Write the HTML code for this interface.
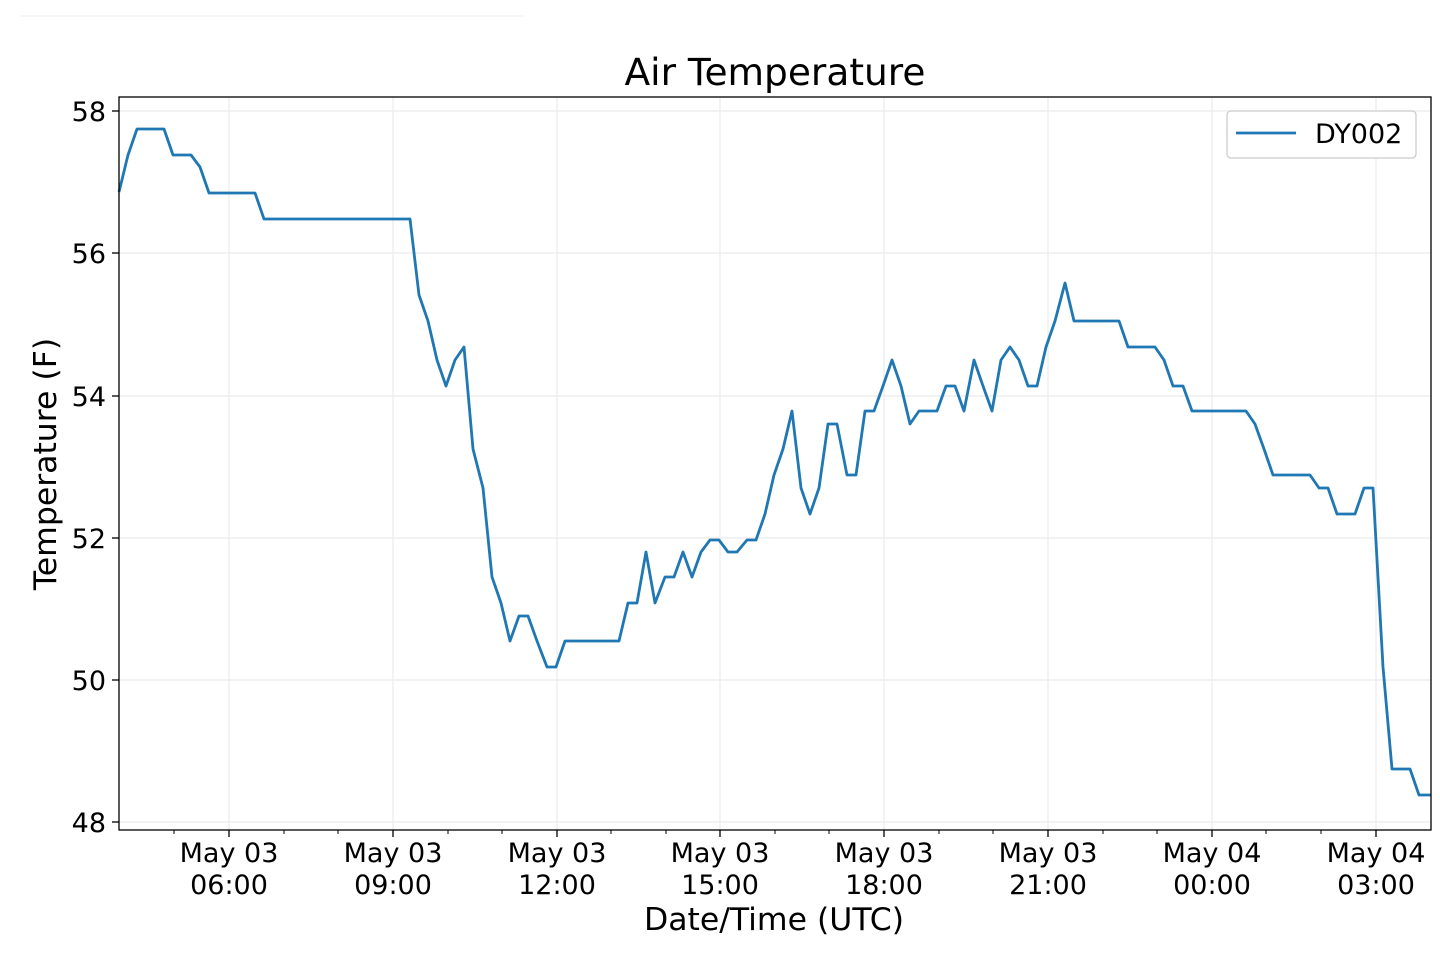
<!DOCTYPE html>
<html><head><meta charset="utf-8"><style>
body{margin:0;background:#fff;}
svg text{font-family:"DejaVu Sans","Liberation Sans",sans-serif;fill:#000;}
</style></head><body>
<svg width="1440" height="959" viewBox="0 0 1440 959" xmlns="http://www.w3.org/2000/svg">
<line x1="20" y1="16" x2="525" y2="16" stroke="#eee" stroke-width="1"/>
<g stroke="#ebebeb" stroke-width="1.2">
<line x1="229" y1="97" x2="229" y2="830"/><line x1="393" y1="97" x2="393" y2="830"/>
<line x1="557" y1="97" x2="557" y2="830"/><line x1="720" y1="97" x2="720" y2="830"/>
<line x1="884" y1="97" x2="884" y2="830"/><line x1="1048" y1="97" x2="1048" y2="830"/>
<line x1="1212" y1="97" x2="1212" y2="830"/><line x1="1376" y1="97" x2="1376" y2="830"/>
<line x1="119" y1="111" x2="1431" y2="111"/><line x1="119" y1="253" x2="1431" y2="253"/>
<line x1="119" y1="396" x2="1431" y2="396"/><line x1="119" y1="538" x2="1431" y2="538"/>
<line x1="119" y1="680" x2="1431" y2="680"/><line x1="119" y1="822" x2="1431" y2="822"/>
</g>
<polyline fill="none" stroke="#1f77b4" stroke-width="2.8" stroke-linejoin="round" points="119,192 128,155 137,129 164,129 173,155 191,155 200,167 209,193 255,193 264,219 410,219 419,295 428,321 437,360 446,386 455,360 464,347 473,449 483,488 492,577 501,603 510,641 519,616 528,616 537,641 547,667 556,667 565,641 619,641 628,603 637,603 646,552 655,603 665,577 674,577 683,552 692,577 701,552 710,540 719,540 728,552 737,552 747,540 756,540 765,514 774,475 783,449 792,411 801,488 810,514 819,488 828,424 837,424 847,475 856,475 865,411 874,411 883,386 892,360 901,386 910,424 919,411 937,411 946,386 955,386 964,411 974,360 983,386 992,411 1001,360 1010,347 1019,360 1028,386 1037,386 1046,347 1055,321 1065,283 1074,321 1119,321 1128,347 1155,347 1164,360 1173,386 1183,386 1192,411 1246,411 1255,424 1264,449 1273,475 1310,475 1319,488 1328,488 1337,514 1355,514 1364,488 1373,488 1383,667 1392,769 1410,769 1419,795 1431,795"/>
<rect x="119" y="97" width="1312" height="733" fill="none" stroke="#000" stroke-width="1.3"/>
<g stroke="#000" stroke-width="1.3">
<line x1="229" y1="830" x2="229" y2="837"/><line x1="393" y1="830" x2="393" y2="837"/>
<line x1="557" y1="830" x2="557" y2="837"/><line x1="720" y1="830" x2="720" y2="837"/>
<line x1="884" y1="830" x2="884" y2="837"/><line x1="1048" y1="830" x2="1048" y2="837"/>
<line x1="1212" y1="830" x2="1212" y2="837"/><line x1="1376" y1="830" x2="1376" y2="837"/>
<line x1="112" y1="111" x2="119" y2="111"/><line x1="112" y1="253" x2="119" y2="253"/>
<line x1="112" y1="396" x2="119" y2="396"/><line x1="112" y1="538" x2="119" y2="538"/>
<line x1="112" y1="680" x2="119" y2="680"/><line x1="112" y1="822" x2="119" y2="822"/>
</g>
<g stroke="#000" stroke-width="1">
<line x1="174" y1="830" x2="174" y2="834"/><line x1="284" y1="830" x2="284" y2="834"/><line x1="338" y1="830" x2="338" y2="834"/>
<line x1="448" y1="830" x2="448" y2="834"/><line x1="502" y1="830" x2="502" y2="834"/><line x1="611" y1="830" x2="611" y2="834"/>
<line x1="666" y1="830" x2="666" y2="834"/><line x1="775" y1="830" x2="775" y2="834"/><line x1="829" y1="830" x2="829" y2="834"/>
<line x1="939" y1="830" x2="939" y2="834"/><line x1="993" y1="830" x2="993" y2="834"/><line x1="1103" y1="830" x2="1103" y2="834"/>
<line x1="1157" y1="830" x2="1157" y2="834"/><line x1="1266" y1="830" x2="1266" y2="834"/><line x1="1321" y1="830" x2="1321" y2="834"/>
</g>
<g font-size="27" text-anchor="end">
<text x="106" y="121">58</text><text x="106" y="263">56</text><text x="106" y="406">54</text>
<text x="106" y="548">52</text><text x="106" y="690">50</text><text x="106" y="832">48</text>
</g>
<g font-size="27" text-anchor="middle">
<text x="229" y="862">May 03</text><text x="229" y="894">06:00</text>
<text x="393" y="862">May 03</text><text x="393" y="894">09:00</text>
<text x="557" y="862">May 03</text><text x="557" y="894">12:00</text>
<text x="720" y="862">May 03</text><text x="720" y="894">15:00</text>
<text x="884" y="862">May 03</text><text x="884" y="894">18:00</text>
<text x="1048" y="862">May 03</text><text x="1048" y="894">21:00</text>
<text x="1212" y="862">May 04</text><text x="1212" y="894">00:00</text>
<text x="1376" y="862">May 04</text><text x="1376" y="894">03:00</text>
</g>
<text x="774" y="930" font-size="31.5" text-anchor="middle">Date/Time (UTC)</text>
<text x="775" y="85" font-size="37.5" text-anchor="middle">Air Temperature</text>
<text transform="translate(56,464) rotate(-90)" font-size="31.5" text-anchor="middle">Temperature (F)</text>
<rect x="1227" y="111" width="189" height="47" rx="4" fill="#fff" stroke="#ccc" stroke-width="1.3"/>
<line x1="1236" y1="133" x2="1296" y2="133" stroke="#1f77b4" stroke-width="2.8"/>
<text x="1315" y="143" font-size="27">DY002</text>
</svg>
</body></html>
